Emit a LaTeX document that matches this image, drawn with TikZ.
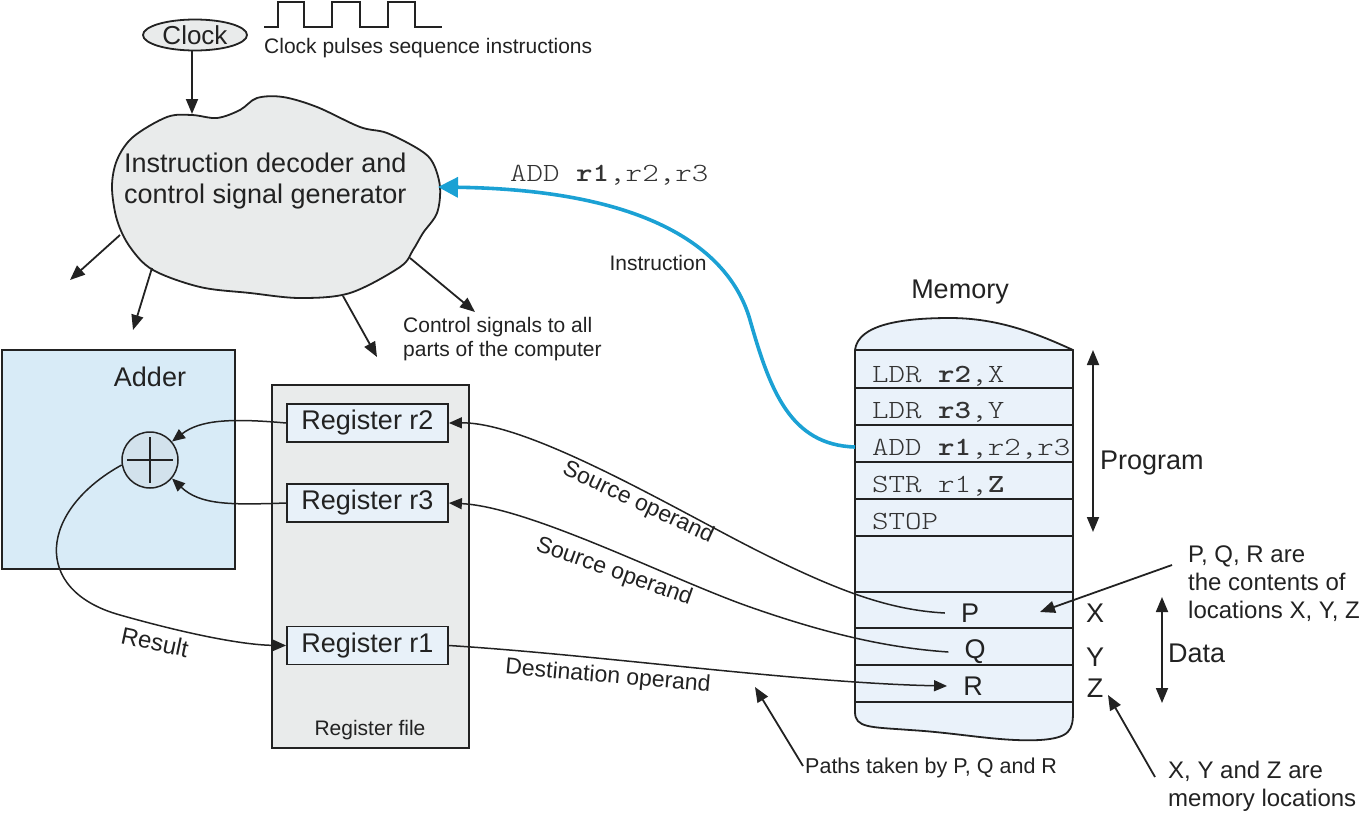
\documentclass[tikz,border=0pt]{standalone}
\usepackage{fontspec}
\setmainfont{Liberation Sans}
\newfontfamily\monof{lmmonolt10-regular.otf}[BoldFont=lmmonolt10-bold.otf, FakeStretch=1.2]
\usetikzlibrary{arrows.meta,shapes.geometric,calc}
\definecolor{ink}{HTML}{222222}
\definecolor{memfill}{HTML}{EAF2FA}
\definecolor{addfill}{HTML}{D8EBF7}
\definecolor{regfill}{HTML}{E9EBEB}
\definecolor{boxfill}{HTML}{E8F1F9}
\definecolor{cloudfill}{HTML}{E9EBEB}
\definecolor{sumfill}{HTML}{D2E2EC}
\definecolor{blueline}{HTML}{1BA1D4}
\definecolor{codec}{HTML}{333333}
\begin{document}
\begin{tikzpicture}[x=1pt,y=-1pt,
  every node/.style={text=ink, inner sep=0pt},
  lbig/.style={font=\fontsize{27}{31}\selectfont},
  lmid/.style={font=\fontsize{24}{28}\selectfont},
  lsmall/.style={font=\fontsize{21}{24.5}\selectfont},
  lcode/.style={font=\monof\fontsize{26.2}{31}\selectfont, text=codec},
  bline/.style={draw=ink, line width=1.8pt},
  tri/.style={draw=ink, line width=1.8pt, -{Triangle[length=15pt,width=12pt]}},
  dtri/.style={draw=ink, line width=1.8pt, {Triangle[length=15pt,width=12pt]}-{Triangle[length=15pt,width=12pt]}},
  flow/.style={draw=ink, line width=1.5pt, -{Triangle[length=13pt,width=11pt]}},
  oplab/.style={font=\fontsize{23}{27}\selectfont},
  regbox/.style={draw=ink, line width=1.8pt, fill=boxfill, minimum width=161pt, minimum height=38pt, lbig},
]
\useasboundingbox (0,0) rectangle (1363,814);

% ---------- clock ----------
\node[ellipse, draw=ink, line width=1.8pt, fill=cloudfill, minimum width=104pt, minimum height=31pt, font=\fontsize{26}{30}\selectfont] (clock) at (195,35) {Clock};
\draw[bline] (264,27) -- (278,27) -- (278,2) -- (304,2) -- (304,27) -- (332,27) -- (332,2) -- (360,2) -- (360,27) -- (388,27) -- (388,2) -- (415,2) -- (415,27) -- (442,27);
\node[lsmall, anchor=west] (pulses) at (264,48) {Clock pulses sequence instructions};

% ---------- cloud ----------
\draw[line width=1.8pt, draw=ink, fill=cloudfill] plot[smooth cycle, tension=0.55] coordinates {
 (192,115) (217,118) (240,110) (257,98) (283,97) (317,107) (360,127) (387,133)
 (420,150) (433,163) (440,187) (437,213) (423,233) (413,250) (400,267) (350,293)
 (300,298) (250,293) (200,287) (153,270) (130,247) (117,220) (112,187) (117,160)
 (133,137) (167,117)};
\node[lbig, align=left, anchor=west] (dec) at (124,181) {Instruction decoder and\\control signal generator};
\coordinate (ctop) at (192,114);
\draw[tri] (clock.south -| ctop) -- (ctop);

\coordinate (c1) at (120,235); \coordinate (t1) at (70,280);
\coordinate (c2) at (152,268); \coordinate (t2) at (133,330);
\coordinate (c3) at (343,296); \coordinate (t3) at (377,357);
\coordinate (c4) at (410,258); \coordinate (t4) at (475,312);
\draw[tri] (c1) -- (t1);
\draw[tri] (c2) -- (t2);
\draw[tri] (c3) -- (t3);
\draw[tri] (c4) -- (t4);
\node[lsmall, align=left, anchor=west] (ctrl) at (403,339) {Control signals to all\\parts of the computer};

% ---------- adder ----------
\node[draw=ink, fill=addfill, line width=1.8pt, minimum width=233pt, minimum height=219pt] (adder) at (118.5,459.5) {};
\node[lbig] (adderlab) at (150,377) {Adder};
\node[circle, draw=ink, line width=1.5pt, fill=sumfill, minimum size=56pt] (sum) at (150,460) {};
\draw[ink, line width=1.5pt] ($(sum.west)+(6,0)$) -- ($(sum.east)+(-6,0)$);
\draw[ink, line width=1.5pt] ($(sum.north)+(0,6)$) -- ($(sum.south)+(0,-6)$);

% ---------- register file ----------
\node[draw=ink, fill=regfill, line width=1.8pt, minimum width=197pt, minimum height=363pt] (rf) at (370.5,566.5) {};
\node[lsmall] (rflab) at (370,730) {Register file};
\node[regbox] (r2) at (367.5,423) {Register r2};
\node[regbox] (r3) at (367.5,503) {Register r3};
\node[regbox] (r1) at (367.5,645.5) {Register r1};

\draw[flow] (r2.west) .. controls (230,418) and (200,420) .. (sum.40);
\draw[flow] (r3.west) .. controls (230,505) and (200,505) .. (sum.-40);
\draw[flow] (sum.190) .. controls (40,510) and (30,590) .. (120,615) .. controls (180,632) and (240,645) .. (r1.west);
\node[lmid, rotate=-12] (result) at (155,642) {Result};

% ---------- memory ----------
\draw[line width=1.8pt, draw=ink, fill=memfill]
  (855,350) -- (855,712) .. controls (855,728) and (870,727) .. (910,730)
  .. controls (960,733) and (1000,742) .. (1040,740)
  .. controls (1070,738) and (1073,730) .. (1073,712) -- (1073,350)
  .. controls (1040,335) and (1000,318) .. (950,318)
  .. controls (900,318) and (858,325) .. (855,350) -- cycle;
\foreach \yy in {350,388,425,462,499,536,592,628,665,702}
  \draw[ink, line width=1.8pt] (855,\yy) -- (1073,\yy);
\node[lbig] (memlab) at (960,292) {Memory};
\node[lcode, anchor=base west] (m1) at (872,382) {LDR \textbf{r2},X};
\node[lcode, anchor=base west] (m2) at (872,418) {LDR \textbf{r3},Y};
\node[lcode, anchor=base west] (m3) at (872,455) {ADD \textbf{r1},r2,r3};
\node[lcode, anchor=base west] (m4) at (872,492) {STR r1,\textbf{Z}};
\node[lcode, anchor=base west] (m5) at (872,529) {STOP};
\node[lbig, inner xsep=16pt] (P) at (970,613) {P};
\node[lbig, inner xsep=16pt] (Q) at (975,652) {Q};
\node[lbig, inner xsep=16pt] (R) at (973,686) {R};
\node[lbig] (X) at (1095,613) {X};
\node[lbig] (Y) at (1095,657) {Y};
\node[lbig] (Z) at (1095,688) {Z};

\coordinate (pt) at (1093,350); \coordinate (pb) at (1093,532);
\draw[dtri] (pt) -- (pb);
\node[lbig, anchor=west] (prog) at (1100,463) {Program};
\coordinate (dt) at (1162,597); \coordinate (db) at (1162,703);
\draw[dtri] (dt) -- (db);
\node[lbig, anchor=west] (data) at (1168,653) {Data};

% ---------- instruction path ----------
\coordinate (madd) at (855,447);
\coordinate (cin) at (438,187);
\draw[draw=blueline, line width=3.6pt, -{Triangle[length=20pt,width=20pt]}] (madd) .. controls (790,445) and (770,390) .. (750,320) .. controls (730,250) and (650,190) .. (cin);
\node[lcode, anchor=base west] (addlab) at (510,181) {ADD \textbf{r1},r2,r3};
\node[lsmall] (instr) at (658,263) {Instruction};

% ---------- operand paths ----------
\draw[flow] (P.west) .. controls (890,610) and (840,592) .. (760,552) .. controls (680,512) and (530,422) .. (r2.east);
\draw[flow] (Q.west) .. controls (890,648) and (830,635) .. (750,607) .. controls (670,579) and (530,507) .. (r3.east);
\draw[flow] (r1.east) .. controls (600,655) and (800,683) .. (R.west);
\node[oplab, rotate=-25] (src1) at (638,503) {Source operand};
\node[oplab, rotate=-19.5] (src2) at (614,572) {Source operand};
\node[oplab, rotate=-5] (dst) at (608,677) {Destination operand};

% ---------- annotations ----------
\node[lmid, align=left, anchor=west] (pqr) at (1188,584) {P, Q, R are\\the contents of\\locations X, Y, Z};
\coordinate (a1s) at (1172,565); \coordinate (a1t) at (1040,612);
\draw[tri] (a1s) -- (a1t);
\node[lmid, align=left, anchor=west] (xyz) at (1168,786) {X, Y and Z are\\memory locations};
\coordinate (a2s) at (1155,777); \coordinate (a2t) at (1108,695);
\draw[tri] (a2s) -- (a2t);
\node[lsmall, font=\fontsize{21.5}{25}\selectfont, anchor=west] (paths) at (805,768) {Paths taken by P, Q and R};
\coordinate (a3s) at (803,766); \coordinate (a3t) at (755,687);
\draw[tri] (a3s) -- (a3t);
\end{tikzpicture}
\end{document}
